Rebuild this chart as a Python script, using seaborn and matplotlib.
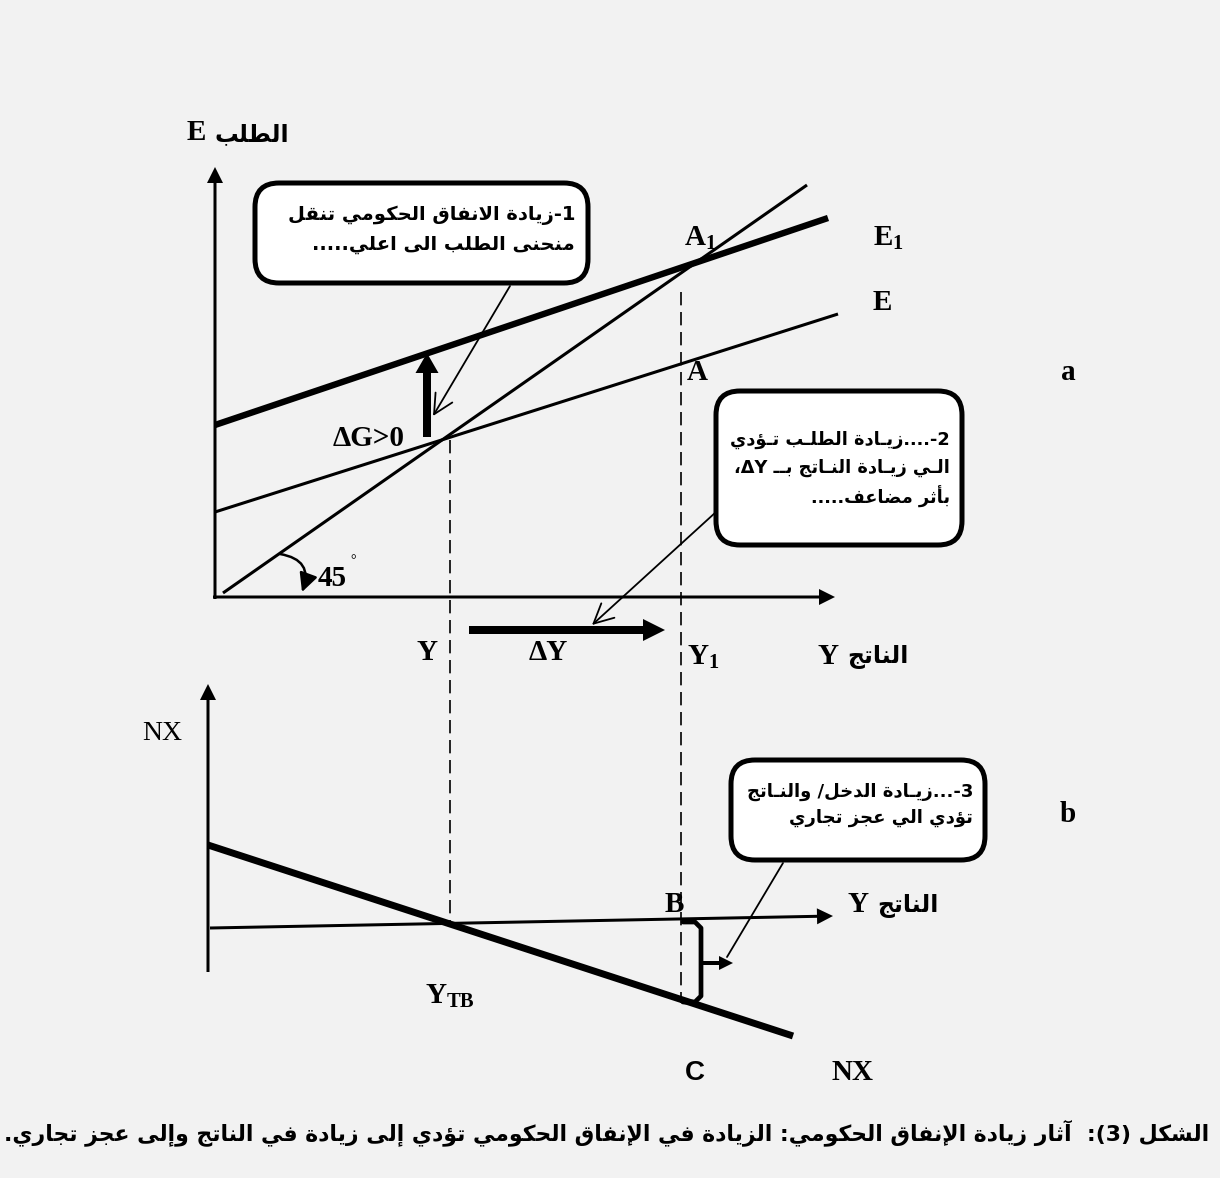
import matplotlib
matplotlib.use("Agg")
import matplotlib.pyplot as plt
from matplotlib.patches import FancyBboxPatch
import seaborn as sns

# ---- diagram data (figure pixel grid, y grows downward) ----
# upper panel: demand E against output Y
line45_y = [223, 807]
line45_e = [593, 185]
lineE_y = [215, 838]
lineE_e = [512, 314]
lineE1_y = [215, 828]
lineE1_e = [425, 218]
# lower panel: net exports NX against output Y
lineNX_y = [208, 793]
lineNX_nx = [845, 1036]
axisNX_y = [210, 833]
axisNX_nx = [928, 916]
# equilibrium output levels (dashed guides)
guide_y = [450, 681]
guide_top = [440, 292]
guide_bottom = [923, 1003]

labels_ar = {
    "box1": ["1-زيادة الانفاق الحكومي تنقل", "منحنى الطلب الى اعلي....."],
    "box2": ["2-....زيـادة الطلـب تـؤدي", "الـي زيـادة النـاتج بــ ΔY،", "بأثر مضاعف....."],
    "box3": ["3-...زيـادة الدخل/ والنـاتج", "تؤدي الي عجز تجاري"],
    "demand": "الطلب",
    "output": "الناتج",
    "caption": "الشكل (3):  آثار زيادة الإنفاق الحكومي: الزيادة في الإنفاق الحكومي تؤدي إلى زيادة في الناتج وإلى عجز تجاري.",
}

# ---- small Arabic shaper (matplotlib has no shaping / bidi) ----
D_FORMS = {'ئ': 0xFE89, 'ب': 0xFE8F, 'ت': 0xFE95, 'ث': 0xFE99, 'ج': 0xFE9D, 'ح': 0xFEA1,
           'خ': 0xFEA5, 'س': 0xFEB1, 'ش': 0xFEB5, 'ص': 0xFEB9, 'ض': 0xFEBD, 'ط': 0xFEC1,
           'ظ': 0xFEC5, 'ع': 0xFEC9, 'غ': 0xFECD, 'ف': 0xFED1, 'ق': 0xFED5, 'ك': 0xFED9,
           'ل': 0xFEDD, 'م': 0xFEE1, 'ن': 0xFEE5, 'ه': 0xFEE9, 'ي': 0xFEF1}
R_FORMS = {'آ': 0xFE81, 'أ': 0xFE83, 'ؤ': 0xFE85, 'إ': 0xFE87, 'ا': 0xFE8D, 'ة': 0xFE93,
           'د': 0xFEA9, 'ذ': 0xFEAB, 'ر': 0xFEAD, 'ز': 0xFEAF, 'و': 0xFEED, 'ى': 0xFEEF}
LAM_ALEF = {'آ': 0xFEF5, 'أ': 0xFEF7, 'إ': 0xFEF9, 'ا': 0xFEFB}
TATWEEL = 'ـ'
MIRROR = {'(': ')', ')': '('}


def joins_next(c):
    return c in D_FORMS or c == TATWEEL


def joins_prev(c):
    return c in D_FORMS or c in R_FORMS or c == TATWEEL


def shape(s):
    out = []
    i = 0
    while i < len(s):
        c = s[i]
        prev = s[i - 1] if i > 0 else ''
        nxt = s[i + 1] if i + 1 < len(s) else ''
        linked_prev = joins_next(prev) and joins_prev(c)
        if c == 'ل' and nxt in LAM_ALEF:
            out.append(chr(LAM_ALEF[nxt] + (1 if linked_prev else 0)))
            i += 2
            continue
        linked_next = joins_next(c) and joins_prev(nxt)
        if c in D_FORMS:
            base = D_FORMS[c]
            if linked_prev and linked_next:
                out.append(chr(base + 3))
            elif linked_prev:
                out.append(chr(base + 1))
            elif linked_next:
                out.append(chr(base + 2))
            else:
                out.append(chr(base))
        elif c in R_FORMS:
            out.append(chr(R_FORMS[c] + (1 if linked_prev else 0)))
        elif c == 'ء':
            out.append('\uFE80')
        else:
            out.append(c)
        i += 1
    return ''.join(out)


def ar(s):
    """ shape + put in visual order, keeping latin/digit runs left-to-right """
    tokens = []
    for ch in shape(s):
        if (ch.isascii() and ch.isalnum()) or ch == 'Δ':
            if tokens and tokens[-1][0]:
                tokens[-1][1] += ch
                continue
            tokens.append([True, ch])
        else:
            tokens.append([False, MIRROR.get(ch, ch)])
    return ''.join(t[1] for t in reversed(tokens))


# ---- figure ----
sns.set_theme(style="white")
plt.rcParams['font.family'] = ['DejaVu Sans']
plt.rcParams['mathtext.fontset'] = 'custom'
plt.rcParams['mathtext.rm'] = 'Liberation Serif'
plt.rcParams['mathtext.bf'] = 'Liberation Serif:bold'

BG = '#f2f2f2'
fig = plt.figure(figsize=(12.2, 11.78), dpi=100, facecolor=BG)
ax = fig.add_axes([0, 0, 1, 1])
ax.set_facecolor(BG)
ax.set_xlim(0, 1220)
ax.set_ylim(1178, 0)
ax.axis('off')

K = 'black'
SERIF = ['Liberation Serif', 'DejaVu Sans']


def curve(xs, ys, lw, **kw):
    sns.lineplot(x=xs, y=ys, ax=ax, color=K, linewidth=lw, estimator=None,
                 sort=False, legend=False, solid_capstyle='butt', **kw)


def solid_arrow(x0, y0, x1, y1, width, hw, hl):
    ax.arrow(x0, y0, x1 - x0, y1 - y0, width=width, head_width=hw, head_length=hl,
             length_includes_head=True, fc=K, ec=K, lw=0)


def pointer(x0, y0, x1, y1, head=True):
    style = '->,head_length=0.7,head_width=0.35' if head else '-'
    ax.annotate('', xy=(x1, y1), xytext=(x0, y0),
                arrowprops=dict(arrowstyle=style, color=K, lw=1.3,
                                shrinkA=0, shrinkB=0, mutation_scale=20))


def label(x, y, s, size=21, weight='bold', family=SERIF, **kw):
    kw.setdefault('ha', 'center')
    ax.text(x, y, s, fontsize=size, fontweight=weight, family=family,
            va='center', color=K, **kw)


def axis_title(x, y, letter, word):
    # latin letter on the left, arabic word to its right
    label(x, y, letter, ha='right')
    label(x + 9, y + 1, ar(word), size=17, family=['DejaVu Sans'], ha='left')


# axes of the upper panel
solid_arrow(215, 599, 215, 167, 3, 16, 16)
solid_arrow(213, 597, 835, 597, 3, 16, 16)

# curves
curve(line45_y, line45_e, 2.2)
curve(lineE_y, lineE_e, 2.2)
curve(lineE1_y, lineE1_e, 4.6)

# dashed guides
for gx, gt, gb in zip(guide_y, guide_top, guide_bottom):
    ax.plot([gx, gx], [gt, gb], color=K, lw=1.2, linestyle=(0, (8, 4)))

# shift of demand and output
solid_arrow(427, 437, 427, 353, 8, 23, 20)
solid_arrow(469, 630, 665, 630, 8, 22, 22)

# 45 degree marker
ax.annotate('', xy=(302, 592), xytext=(280, 554),
            arrowprops=dict(arrowstyle='-|>,head_length=0.8,head_width=0.4', color=K, lw=1.8,
                            shrinkA=0, shrinkB=0, mutation_scale=14,
                            connectionstyle='arc3,rad=-0.6'))
label(332, 578, '45')
label(353, 561, '°', size=10, weight='normal')

# lower panel
solid_arrow(208, 972, 208, 684, 3, 16, 16)
solid_arrow(axisNX_y[0], axisNX_nx[0], axisNX_y[1], axisNX_nx[1], 3, 16, 16)
curve(lineNX_y, lineNX_nx, 5.0)

# trade deficit bracket
ax.plot([683, 695, 701, 701, 695, 683], [922, 922, 928, 996, 1002, 1002],
        color=K, lw=3.4, solid_joinstyle='round')
solid_arrow(701, 963, 733, 963, 4, 14, 14)

# text boxes
boxes = [((255, 183, 333, 100), 575, [215, 245], 14.0, labels_ar["box1"]),
         ((716, 391, 246, 154), 950, [440, 468, 497], 12.8, labels_ar["box2"]),
         ((731, 760, 254, 100), 973, [792, 818], 13.0, labels_ar["box3"])]
for (bx, by, bw, bh), tx, tys, fs, lines in boxes:
    ax.add_patch(FancyBboxPatch((bx, by), bw, bh, boxstyle='round,pad=0,rounding_size=24',
                                fc='white', ec=K, lw=3.6, zorder=3))
    for ty, line in zip(tys, lines):
        ax.text(tx, ty, ar(line), fontsize=fs, fontweight='bold', ha='right', va='center',
                color=K, zorder=4)

pointer(510, 286, 433, 416)
pointer(716, 512, 592, 625)
pointer(783, 863, 727, 957, head=False)

# labels
axis_title(206, 133, 'E', labels_ar["demand"])
label(700, 238, r'$\mathbf{A_1}$')
label(888, 238, r'$\mathbf{E_1}$')
label(882, 302, 'E')
label(697, 372, 'A')
label(1068, 372, 'a')
label(369, 439, 'ΔG>0')
label(427, 653, 'Y')
label(548, 653, 'ΔY')
label(703, 657, r'$\mathbf{Y_1}$')
axis_title(838, 656, 'Y', labels_ar["output"])
label(162, 733, 'NX', size=20, weight='normal')
label(1068, 814, 'b')
label(674, 905, 'B')
axis_title(868, 905, 'Y', labels_ar["output"])
label(450, 996, r'$\mathbf{Y_{TB}}$')
label(695, 1073, 'C', size=20, family=['Liberation Sans'])
label(852, 1073, 'NX')

ax.text(607, 1133, ar(labels_ar["caption"]), fontsize=15.8, fontweight='bold',
        ha='center', va='center', color=K)

fig.savefig('out.png', dpi=100, facecolor=BG)
